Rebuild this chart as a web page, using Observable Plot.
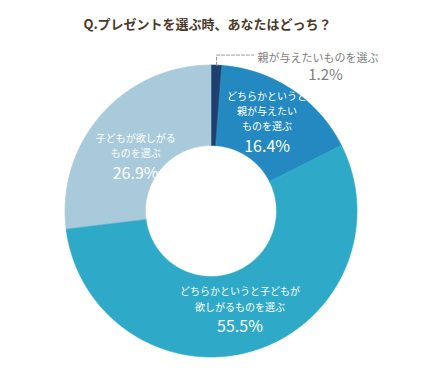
<!DOCTYPE html>
<html><head><meta charset="utf-8">
<script src="https://cdn.jsdelivr.net/npm/d3@7"></script>
<script src="https://cdn.jsdelivr.net/npm/@observablehq/plot@0.6"></script>
<style>
body{margin:0;background:#fff;font-family:"Noto Sans CJK JP",sans-serif;}
#title{height:40px;box-sizing:border-box;padding-top:14px;padding-right:24px;width:439px;text-align:center;font-size:13px;font-weight:bold;color:#4a3a2a;line-height:20px;}
</style></head><body>
<div id="title"></div>
<div id="chart"></div>
<script>
const title = "Q.プレゼントを選ぶ時、あなたはどっち？";
const categories = ["親が与えたいものを選ぶ", "どちらかというと親が与えたいものを選ぶ", "どちらかというと子どもが欲しがるものを選ぶ", "子どもが欲しがるものを選ぶ"];
const labelLines = [["親が与えたいものを選ぶ"], ["どちらかというと", "親が与えたい", "ものを選ぶ"], ["どちらかというと子どもが", "欲しがるものを選ぶ"], ["子どもが欲しがる", "ものを選ぶ"]];
const values = [1.2, 16.4, 55.5, 26.9];
const colors = ["#1d406e", "#2489c0", "#2eaac8", "#a8cadb"];

document.getElementById("title").textContent = title;

// layout (pixels)
const R = 146;             // outer radius in px
const innerRatio = 65.5 / 146;
const labelRadius = 0.69;
const labelNudgePx = [0, 1, 5, 15];
const lineH = 15.4, pctGap = 13.5;

const total = d3.sum(values);
const slices = [];
let acc = 0;
values.forEach((v, i) => {
  const a0 = acc / total * 2 * Math.PI;
  acc += v;
  const a1 = acc / total * 2 * Math.PI;
  slices.push({i, a0, a1, v});
});

// polygon points for each slice
const poly = [];
for (const s of slices) {
  const n = Math.max(4, Math.ceil((s.a1 - s.a0) / (Math.PI / 360)));
  for (let k = 0; k <= n; k++) {
    const a = s.a0 + (s.a1 - s.a0) * k / n;
    poly.push({key: categories[s.i], color: colors[s.i], x: Math.sin(a), y: Math.cos(a)});
  }
  for (let k = n; k >= 0; k--) {
    const a = s.a0 + (s.a1 - s.a0) * k / n;
    poly.push({key: categories[s.i], color: colors[s.i], x: innerRatio * Math.sin(a), y: innerRatio * Math.cos(a)});
  }
}

// inside labels: name block centre and percentage centre around the block centre
const inside = slices.filter(s => s.i > 0).map(s => {
  const m = (s.a0 + s.a1) / 2;
  const lines = labelLines[s.i];
  const cx = labelRadius * Math.sin(m);
  const cy = labelRadius * Math.cos(m) - labelNudgePx[s.i] / R;
  const d = lines.length * lineH / 2 + pctGap; // px between name centre and pct centre
  return {x: cx, yName: cy + (d / 2) / R, yPct: cy - (d / 2) / R, name: lines.join("\n"), pct: values[s.i].toFixed(1) + "%"};
});

// outside label for smallest slice
const s0 = slices[0];
const m0 = (s0.a0 + s0.a1) / 2;
const A = {x: Math.sin(m0), y: Math.cos(m0)};
const B = {x: A.x, y: A.y + 10 / R};
const C = {x: A.x + 37 / R, y: B.y};
const leader = [A, B, C];
const outside = [{x: B.x, y: B.y, name: labelLines[0].join(""), pct: values[0].toFixed(1) + "%"}];

const chart = Plot.plot({
  width: 439,
  height: 336,
  margin: 0,
  x: {domain: [-1, 1], range: [64.5, 356.5], axis: null},
  y: {domain: [-1, 1], range: [316.5, 24.5], axis: null},
  color: {type: "identity"},
  style: {fontFamily: "'Noto Sans CJK JP', sans-serif", background: "#fff"},
  marks: [
    Plot.line(poly, {x: "x", y: "y", z: "key", fill: "color", stroke: "color", strokeWidth: 0.6, curve: "linear-closed"}),
    Plot.line(leader, {x: "x", y: "y", stroke: "#9a9a9a", strokeWidth: 1, strokeDasharray: "3,2"}),
    Plot.text(inside, {x: "x", y: "yName", text: "name", lineAnchor: "middle", lineHeight: 1.54, fontSize: 10, fill: "white"}),
    Plot.text(inside, {x: "x", y: "yPct", text: "pct", lineAnchor: "middle", fontSize: 16, fill: "white"}),
    Plot.text(outside, {x: "x", y: "y", text: "name", textAnchor: "start", fontSize: 11, fill: "#7f7f7f", dx: 41, dy: 3}),
    Plot.text(outside, {x: "x", y: "y", text: "pct", fontSize: 15, fill: "#7f7f7f", dx: 109, dy: 20.5})
  ]
});
document.getElementById("chart").appendChild(chart);
</script>
</body></html>
